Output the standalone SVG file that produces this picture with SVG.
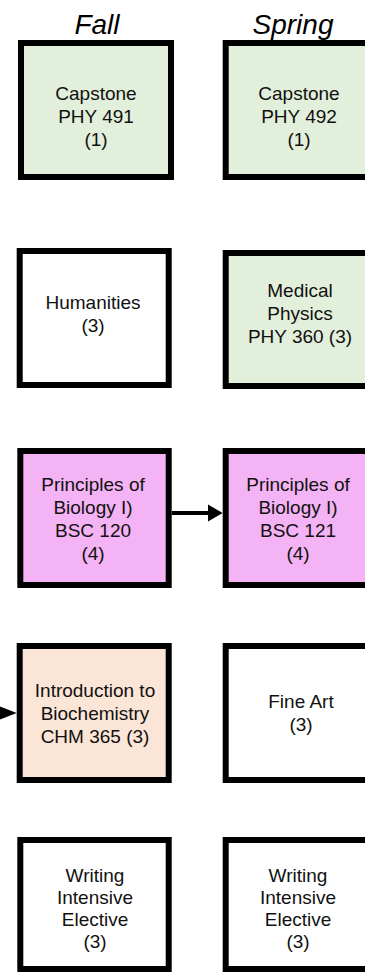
<svg xmlns="http://www.w3.org/2000/svg" width="365" height="976" viewBox="0 0 365 976">
<style>
.box{stroke:#000;stroke-width:6}
.w{fill:#fff}.g{fill:#e2efda}.p{fill:#f4b3f4}.o{fill:#fbe5d6}
.t{font-family:"Liberation Sans",Arial,sans-serif;font-size:19px;fill:#111;text-anchor:middle}
.h{font-family:"Liberation Sans",Arial,sans-serif;font-size:28px;font-style:italic;fill:#000;text-anchor:middle}
.c{stroke:#000;stroke-width:4;fill:none}
</style>
<defs>
<marker id="ah" markerWidth="4" markerHeight="4" refX="4" refY="2" orient="auto" markerUnits="strokeWidth">
<path d="M0,0L4,2L0,4Z" fill="#000"/>
</marker>
</defs>
<text class="h" x="97" y="34">Fall</text>
<text class="h" x="293" y="34">Spring</text>

<g id="capstone491"><rect class="box g" x="21" y="43" width="150" height="134"/>
<text class="t" x="96" y="100">Capstone</text><text class="t" x="96" y="123">PHY 491</text><text class="t" x="96" y="146">(1)</text></g>
<g id="capstone492"><rect class="box g" x="225.7" y="43" width="150" height="134"/>
<text class="t" x="299" y="100">Capstone</text><text class="t" x="299" y="123">PHY 492</text><text class="t" x="299" y="146">(1)</text></g>

<g id="humanities"><rect class="box w" x="19.7" y="251" width="149" height="134"/>
<text class="t" x="93" y="309">Humanities</text><text class="t" x="93" y="332">(3)</text></g>
<g id="phy360"><rect class="box g" x="225.7" y="253" width="150" height="133"/>
<text class="t" x="300" y="297">Medical</text><text class="t" x="300" y="320">Physics</text><text class="t" x="300" y="343">PHY 360 (3)</text></g>

<g id="bsc120"><rect class="box p" x="20.3" y="451" width="148.4" height="134"/>
<text class="t" x="93" y="491">Principles of</text><text class="t" x="93" y="514">Biology I)</text><text class="t" x="93" y="537">BSC 120</text><text class="t" x="93" y="560">(4)</text></g>
<g id="bsc121"><rect class="box p" x="225.7" y="451" width="150" height="134"/>
<text class="t" x="298" y="491">Principles of</text><text class="t" x="298" y="514">Biology I)</text><text class="t" x="298" y="537">BSC 121</text><text class="t" x="298" y="560">(4)</text></g>

<g id="chm365"><rect class="box o" x="19.7" y="646" width="149" height="134"/>
<text class="t" x="95" y="697">Introduction to</text><text class="t" x="95" y="720">Biochemistry</text><text class="t" x="95" y="743">CHM 365 (3)</text></g>
<g id="fineart"><rect class="box w" x="225.7" y="646" width="150" height="134"/>
<text class="t" x="301" y="708">Fine Art</text><text class="t" x="301" y="731">(3)</text></g>

<g id="wi1"><rect class="box w" x="20.3" y="840" width="148.4" height="129"/>
<text class="t" x="95" y="882">Writing</text><text class="t" x="95" y="904">Intensive</text><text class="t" x="95" y="926">Elective</text><text class="t" x="95" y="948">(3)</text></g>
<g id="wi2"><rect class="box w" x="225.7" y="840" width="150" height="129"/>
<text class="t" x="298" y="882">Writing</text><text class="t" x="298" y="904">Intensive</text><text class="t" x="298" y="926">Elective</text><text class="t" x="298" y="948">(3)</text></g>

<g id="connectors">
<path class="c" d="M171.7,513H210"/>
<path d="M208,504.5L222.7,513L208,521.5Z" fill="#000"/>
<path d="M0,706.5L16.7,713L0,719.5Z" fill="#000"/>
</g>
</svg>
